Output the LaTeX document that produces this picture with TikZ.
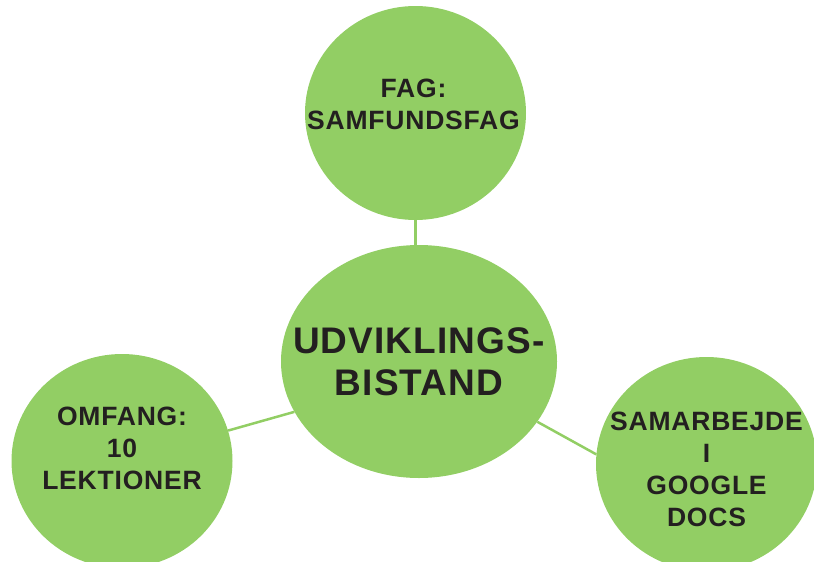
\documentclass[tikz,border=0pt]{standalone}
\usepackage{fontspec}
\setmainfont{Liberation Sans}
\usetikzlibrary{shapes.geometric,calc,positioning}
\definecolor{leafgreen}{RGB}{146,206,100}
\definecolor{inkblack}{RGB}{35,31,32}

\begin{document}
\begin{tikzpicture}[x=1pt,y=-1pt,
  bubble/.style={ellipse,fill=leafgreen,inner sep=0pt,minimum width=221,minimum height=214},
  link/.style={draw=leafgreen,line width=2.5pt},
  lbl/.style={align=center,text=inkblack,inner sep=0pt},
  bigtext/.style={font=\bfseries\addfontfeature{LetterSpace=3}\fontsize{37}{42}\selectfont},
  smalltext/.style={font=\bfseries\addfontfeature{LetterSpace=3}\fontsize{26.5}{32}\selectfont}]
\clip (0,0) rectangle (814,562);
% define the middle bubble and the three topics round it
\node[bubble,minimum width=276,minimum height=233] (hub) at (419,361.5) {};
\node[bubble] (fag) at (415.5,113) {};
\node[bubble] (omfang) at (122,461) {};
\node[bubble] (samarbejde) at (706.5,464) {};
% draw the links
\draw[link] (fag.south) -- (fag.south |- hub.north);
\draw[link] (hub.202) -- (omfang.16);
\draw[link] (hub.333) -- (samarbejde.175);
% add the texts
\node[lbl,bigtext] (hub-text) at (hub) {UDVIKLINGS-\\BISTAND};
\node[lbl,smalltext] (fag-text) at ([yshift=9pt,xshift=-2pt]fag.center) {FAG:\\SAMFUNDSFAG};
\node[lbl,smalltext] (omfang-text) at ([yshift=13pt]omfang.center) {OMFANG:\\10\\LEKTIONER};
\node[lbl,smalltext] (samarbejde-text) at ([yshift=-5pt]samarbejde.center) {SAMARBEJDE\\I\\GOOGLE\\DOCS};
\end{tikzpicture}
\end{document}
